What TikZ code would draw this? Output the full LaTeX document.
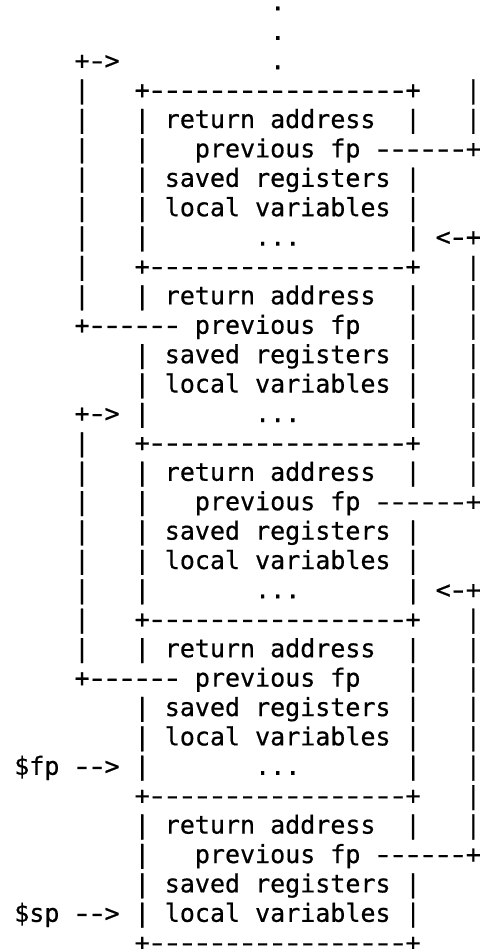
\documentclass[tikz,border=0pt]{standalone}
\usepackage{fontspec}
\setmonofont[UprightFeatures={FakeBold=0.6}]{DejaVu Sans Mono}
\usepackage{graphicx}
\usepackage{tikz}
\usetikzlibrary{positioning}
% a wider hyphen, still one cell wide
\newcommand\dashglyph{\makebox[0.602em]{\scalebox{1.4}[1]{-}}}
\newcommand\frameedge{+\dashglyph\dashglyph\dashglyph\dashglyph\dashglyph\dashglyph\dashglyph\dashglyph\dashglyph\dashglyph\dashglyph\dashglyph\dashglyph\dashglyph\dashglyph\dashglyph\dashglyph+}
\newcommand\linkdashes{\dashglyph\dashglyph\dashglyph\dashglyph\dashglyph\dashglyph}

\begin{document}
\begin{tikzpicture}[x=1pt,y=1pt,
    row/.style={anchor=base west,inner sep=0pt,outer sep=0pt,
      font=\ttfamily\fontsize{25}{29.4}\selectfont}]
    \useasboundingbox (0,0) rectangle (487,-949);
    % dots above the frames
    \node[row,text height=4pt] (r1) at (270.2,-10.4) {.};
    \node[row] (r2) at (270.2,-39.8) {.};
    \node[row] (r3) at (74.5,-69.2) {+\dashglyph>~~~~~~~~~~.};
    % frame 1
    \node[row] (r4) at (74.5,-98.6) {|~~~\frameedge~~~|};
    \node[row] (r5) at (74.5,-128.0) {|~~~|~return~address~~|~~~|};
    \node[row] (r6) at (74.5,-157.4) {|~~~|~~~previous~fp~\linkdashes+};
    \node[row] (r7) at (74.5,-186.8) {|~~~|~saved~registers~|};
    \node[row] (r8) at (74.5,-216.2) {|~~~|~local~variables~|};
    \node[row] (r9) at (74.5,-245.6) {|~~~|~~~~~~~...~~~~~~~|~<\dashglyph+};
    % frame 2
    \node[row] (r10) at (74.5,-275.0) {|~~~\frameedge~~~|};
    \node[row] (r11) at (74.5,-304.4) {|~~~|~return~address~~|~~~|};
    \node[row] (r12) at (74.5,-333.8) {+\linkdashes~previous~fp~~~|~~~|};
    \node[row] (r13) at (134.7,-363.2) {|~saved~registers~|~~~|};
    \node[row] (r14) at (134.7,-392.6) {|~local~variables~|~~~|};
    \node[row] (r15) at (74.5,-422.0) {+\dashglyph>~|~~~~~~~...~~~~~~~|~~~|};
    % frame 3
    \node[row] (r16) at (74.5,-451.4) {|~~~\frameedge~~~|};
    \node[row] (r17) at (74.5,-480.8) {|~~~|~return~address~~|~~~|};
    \node[row] (r18) at (74.5,-510.2) {|~~~|~~~previous~fp~\linkdashes+};
    \node[row] (r19) at (74.5,-539.6) {|~~~|~saved~registers~|};
    \node[row] (r20) at (74.5,-569.0) {|~~~|~local~variables~|};
    \node[row] (r21) at (74.5,-598.4) {|~~~|~~~~~~~...~~~~~~~|~<\dashglyph+};
    % frame 4
    \node[row] (r22) at (74.5,-627.8) {|~~~\frameedge~~~|};
    \node[row] (r23) at (74.5,-657.2) {|~~~|~return~address~~|~~~|};
    \node[row] (r24) at (74.5,-686.6) {+\linkdashes~previous~fp~~~|~~~|};
    \node[row] (r25) at (134.7,-716.0) {|~saved~registers~|~~~|};
    \node[row] (r26) at (134.7,-745.4) {|~local~variables~|~~~|};
    \node[row] (r27) at (14.3,-774.8) {\$fp~\dashglyph\dashglyph>~|~~~~~~~...~~~~~~~|~~~|};
    % frame 5
    \node[row] (r28) at (134.7,-804.2) {\frameedge~~~|};
    \node[row] (r29) at (134.7,-833.6) {|~return~address~~|~~~|};
    \node[row] (r30) at (134.7,-863.0) {|~~~previous~fp~\linkdashes+};
    \node[row] (r31) at (134.7,-892.4) {|~saved~registers~|};
    \node[row] (r32) at (14.3,-921.8) {\$sp~\dashglyph\dashglyph>~|~local~variables~|};
    \node[row,text depth=0pt] (r33) at (134.7,-951.2) {\frameedge};
\end{tikzpicture}
\end{document}
